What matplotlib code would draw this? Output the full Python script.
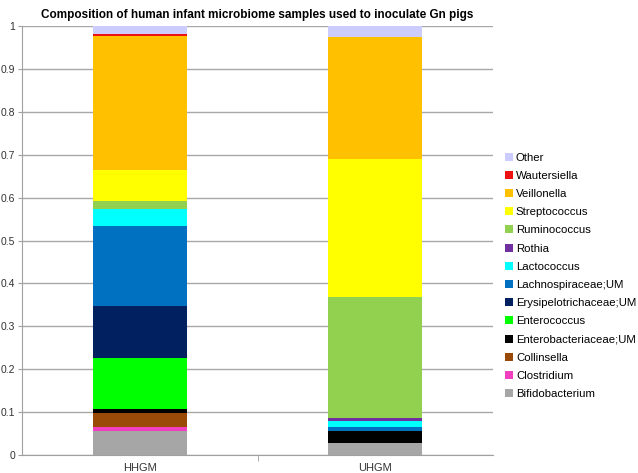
import matplotlib
matplotlib.use("Agg")
import matplotlib.pyplot as plt
from matplotlib.patches import Patch
import numpy as np

plt.rcParams['font.family'] = ['Liberation Sans', 'DejaVu Sans']

samples = ["HHGM", "UHGM"]
taxa = ["Bifidobacterium", "Clostridium", "Collinsella", "Enterobacteriaceae;UM",
        "Enterococcus", "Erysipelotrichaceae;UM", "Lachnospiraceae;UM", "Lactococcus",
        "Rothia", "Ruminococcus", "Streptococcus", "Veillonella", "Wautersiella", "Other"]
hhgm = [0.056, 0.010, 0.031, 0.010, 0.119, 0.121, 0.186, 0.041,
        0.000, 0.019, 0.071, 0.313, 0.005, 0.018]
uhgm = [0.029, 0.000, 0.000, 0.027, 0.000, 0.000, 0.009, 0.015,
        0.0065, 0.281, 0.323, 0.283, 0.000, 0.0265]
colors = ["#A6A6A6", "#F040C0", "#9A4A08", "#000000", "#00FF00", "#002060",
          "#0070C0", "#00FFFF", "#7030A0", "#92D050", "#FFFF00", "#FFC000",
          "#EE1111", "#CCCCFF"]
yticklabels = ["0", "0.1", "0.2", "0.3", "0.4", "0.5", "0.6", "0.7", "0.8", "0.9", "1"]

fig = plt.figure(figsize=(6.38, 4.73), dpi=100)
ax = fig.add_axes([22/638, 18/473, (493-22)/638, (455-26)/473])

x = np.arange(len(samples))
bottom = np.zeros(len(samples))
for name, a, b, c in zip(taxa, hhgm, uhgm, colors):
    vals = np.array([a, b])
    ax.bar(x, vals, width=0.4, bottom=bottom, color=c, edgecolor='none', zorder=3)
    bottom += vals

ax.set_xlim(-0.5, 1.5)
ax.set_ylim(0, 1)
ax.set_yticks(np.arange(0, 1.01, 0.1))
ax.set_yticklabels(yticklabels)
ax.set_xticks(x)
ax.set_xticklabels(samples)
ax.set_xticks([0.5], minor=True)
ax.tick_params(axis='x', which='major', length=0, labelsize=8, pad=6, colors='#333333')
ax.tick_params(axis='x', which='minor', length=4, color='#A0A0A0')
ax.tick_params(axis='y', length=3, color='#A0A0A0', labelsize=7.5, pad=2, labelcolor='#333333')
ax.yaxis.grid(True, color='#A8A8A8', linewidth=1, zorder=0)
for s in ['top', 'right']:
    ax.spines[s].set_visible(False)
ax.spines['left'].set_color('#A0A0A0')
ax.spines['bottom'].set_color('#A0A0A0')

ax.set_title("Composition of human infant microbiome samples used to inoculate Gn pigs",
             fontsize=8.5, fontweight='bold', pad=6)

handles = [Patch(facecolor=c, edgecolor='none', label=n) for n, c in zip(taxa, colors)][::-1]
fig.legend(handles=handles, loc='upper left', bbox_to_anchor=(500/638, 1 - 148/473),
           frameon=False, fontsize=8.2, handlelength=0.7, handleheight=0.7,
           handletextpad=0.3, labelspacing=0.72, borderaxespad=0)

fig.savefig("out.png", dpi=100)
